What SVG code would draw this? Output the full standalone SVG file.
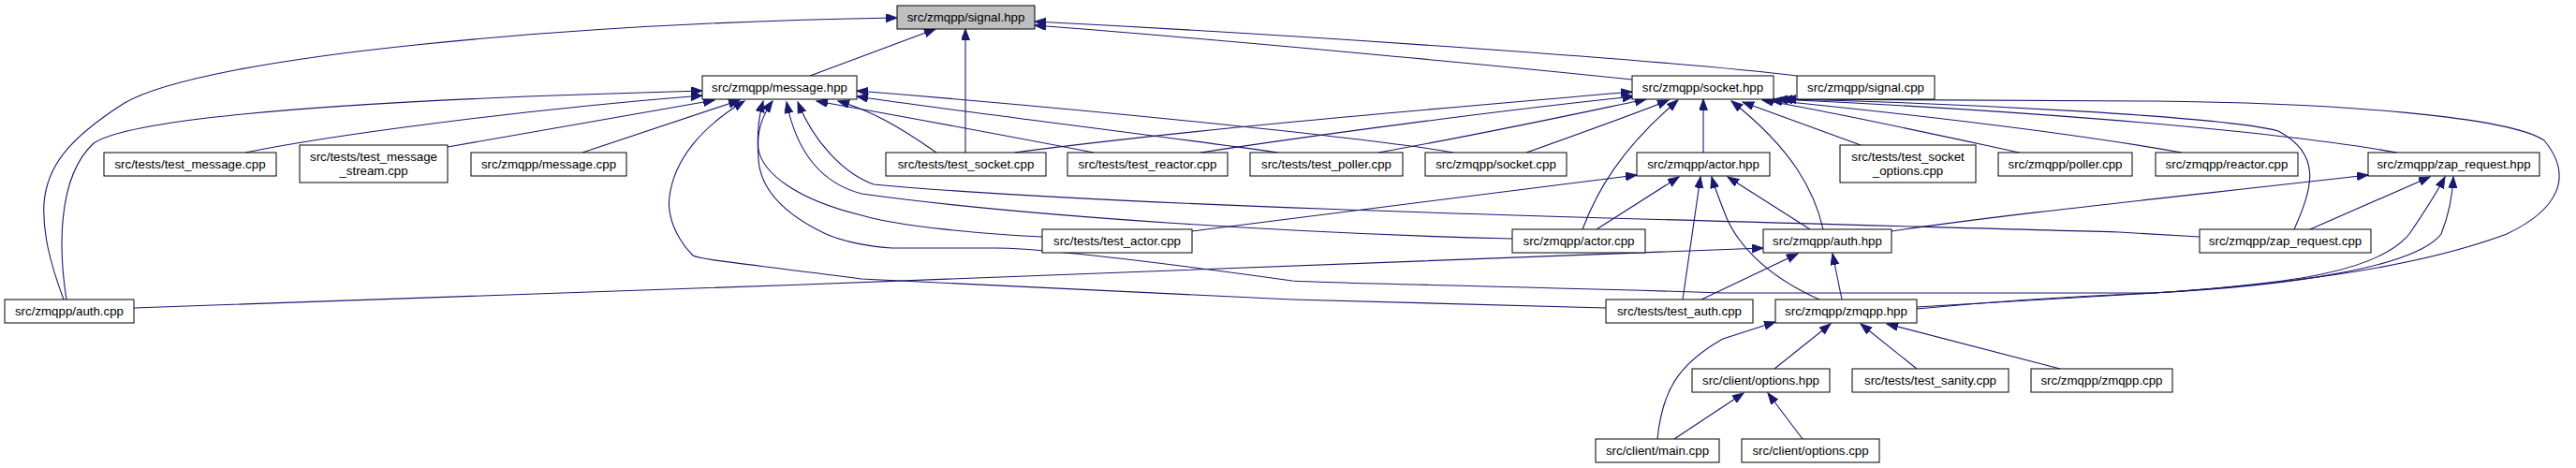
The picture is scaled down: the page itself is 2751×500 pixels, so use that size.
<svg xmlns="http://www.w3.org/2000/svg" width="2751" height="500" viewBox="0 0 2751 500">
<style>
.n rect{fill:#fff;stroke:#000;stroke-width:1}
.n text{font-family:"Liberation Sans",Arial,sans-serif;font-size:13.3px;fill:#000;text-anchor:middle}
.g rect{fill:#bfbfbf}
#edges path{fill:none;stroke:#191970;stroke-width:1.1;marker-end:url(#ah)}
#edges path.both{marker-start:url(#ah)}
</style>
<defs>
<marker id="ah" markerUnits="userSpaceOnUse" markerWidth="14" markerHeight="10" refX="12" refY="4.5" orient="auto-start-reverse">
<path d="M0,0 L12,4.5 L0,9 z" fill="#191970" stroke="#191970" stroke-width="1"/>
</marker>
</defs>
<rect width="2751" height="500" fill="#fff"/>
<g id="edges">
<path d="M865,81 L999,31"/>
<path d="M1031,163 L1031,31"/>
<path d="M1743,85 C1600,70 1300,42 1105,27"/>
<path d="M1919,81 C1800,66 1400,38 1105,23"/>
<path d="M68,320 C55,285 45,250 47,217 C50,180 70,150 133,110 C220,60 600,25 958,19"/>
<path d="M71,320 C63,270 60,190 100,153 C150,120 450,105 750,97"/>
<path d="M262,163 C350,145 550,118 750,102"/>
<path d="M478,157 L763,107"/>
<path d="M622,163 L790,107"/>
<path d="M1552,163 C1480,150 1200,120 915,97"/>
<path d="M1365,163 C1200,140 1000,116 915,103"/>
<path d="M1000,163 C960,135 930,118 895,108"/>
<path d="M1168,163 C1050,140 950,122 872,108"/>
<path d="M2349,253 L2263,248 C1800,235 1200,222 933,197 C900,185 868,150 852,109"/>
<path d="M1615,255 C1400,250 1100,232 920,207 C875,195 850,160 840,109"/>
<path d="M1113,253 C1050,250 960,242 920,230 C850,213 815,185 810,160 C808,140 815,122 825,108"/>
<path d="M1715,329 L1380,320 L920,298 C800,282 750,278 740,273 C722,255 712,230 715,210 C720,170 750,135 795,108"/>
<path class="both" d="M2620,189 C2619,210 2615,230 2607,250 C2580,285 2450,305 2300,313 L1840,313 C1600,305 1420,303 1380,300 C1200,275 1100,265 1063,265 L953,265 C930,264 900,258 882,250 C840,230 812,205 810,170 C808,145 810,125 815,108"/>
<path d="M1083,163 C1300,135 1550,115 1743,98"/>
<path d="M1282,163 C1400,145 1600,118 1745,103"/>
<path d="M1472,163 C1600,140 1700,118 1758,106"/>
<path d="M1630,163 C1700,138 1750,120 1782,107"/>
<path d="M1690,245 C1705,205 1730,160 1792,107"/>
<path d="M1819,163 L1819,106"/>
<path d="M1947,245 C1938,205 1915,160 1849,108"/>
<path d="M1987,155 L1861,109"/>
<path d="M2157,163 C2050,140 1950,118 1882,107"/>
<path d="M2330,163 C2200,140 2000,118 1891,107"/>
<path d="M2560,163 C2400,135 2100,115 1897,106"/>
<path d="M2450,245 C2470,200 2480,165 2433,140 C2380,125 2100,110 1902,106"/>
<path d="M2047,328 L2300,313 C2420,305 2570,290 2677,250 C2730,225 2750,190 2717,150 C2680,125 2500,110 2300,108 L1906,106"/>
<path d="M1273,247 L1748,187"/>
<path d="M1705,245 L1793,189"/>
<path d="M1797,320 L1816,189"/>
<path d="M1933,245 L1845,189"/>
<path d="M1943,320 C1880,292 1852,255 1842,228 C1835,210 1831,200 1828,189"/>
<path d="M2020,247 C2150,228 2300,213 2529,187"/>
<path d="M2467,245 L2595,189"/>
<path d="M2047,330 C2150,320 2250,315 2300,313 C2450,303 2540,290 2573,250 C2590,225 2600,210 2611,189"/>
<path d="M143,329 C700,310 1400,285 1883,265"/>
<path d="M1817,320 L1920,271"/>
<path d="M1967,320 L1957,271"/>
<path d="M1770,469 C1775,420 1790,390 1840,362 L1896,344"/>
<path d="M1895,394 L1955,346"/>
<path d="M2047,394 L1987,346"/>
<path d="M2200,394 L2015,346"/>
<path d="M1925,469 L1888,420"/>
<path d="M1788,469 L1862,420"/>
</g>
<g id="n_signal_hpp" class="n g"><rect x="958" y="6" width="147" height="25"/><text x="1031.5" y="23">src/zmqpp/signal.hpp</text></g>
<g id="n_message_hpp" class="n"><rect x="750" y="81" width="165" height="25"/><text x="832.5" y="98">src/zmqpp/message.hpp</text></g>
<g id="n_socket_hpp" class="n"><rect x="1743" y="81" width="151" height="25"/><text x="1818.5" y="98">src/zmqpp/socket.hpp</text></g>
<g id="n_signal_cpp" class="n"><rect x="1919" y="81" width="147" height="25"/><text x="1992.5" y="98">src/zmqpp/signal.cpp</text></g>
<g id="n_test_message_cpp" class="n"><rect x="111" y="163" width="184" height="25"/><text x="203" y="180">src/tests/test_message.cpp</text></g>
<g id="n_test_message_stream_cpp" class="n"><rect x="320" y="155" width="158" height="40"/><text x="399" y="172">src/tests/test_message</text><text x="399" y="187">_stream.cpp</text></g>
<g id="n_message_cpp" class="n"><rect x="503" y="163" width="166" height="25"/><text x="586" y="180">src/zmqpp/message.cpp</text></g>
<g id="n_test_socket_cpp" class="n"><rect x="946" y="163" width="171" height="25"/><text x="1031.5" y="180">src/tests/test_socket.cpp</text></g>
<g id="n_test_reactor_cpp" class="n"><rect x="1140" y="163" width="171" height="25"/><text x="1225.5" y="180">src/tests/test_reactor.cpp</text></g>
<g id="n_test_poller_cpp" class="n"><rect x="1335" y="163" width="163" height="25"/><text x="1416.5" y="180">src/tests/test_poller.cpp</text></g>
<g id="n_socket_cpp" class="n"><rect x="1522" y="163" width="151" height="25"/><text x="1597.5" y="180">src/zmqpp/socket.cpp</text></g>
<g id="n_actor_hpp" class="n"><rect x="1748" y="163" width="142" height="25"/><text x="1819" y="180">src/zmqpp/actor.hpp</text></g>
<g id="n_test_socket_options_cpp" class="n"><rect x="1965" y="155" width="145" height="40"/><text x="2037.5" y="172">src/tests/test_socket</text><text x="2037.5" y="187">_options.cpp</text></g>
<g id="n_poller_cpp" class="n"><rect x="2134" y="163" width="143" height="25"/><text x="2205.5" y="180">src/zmqpp/poller.cpp</text></g>
<g id="n_reactor_cpp" class="n"><rect x="2302" y="163" width="152" height="25"/><text x="2378" y="180">src/zmqpp/reactor.cpp</text></g>
<g id="n_zap_request_hpp" class="n"><rect x="2529" y="163" width="183" height="25"/><text x="2620.5" y="180">src/zmqpp/zap_request.hpp</text></g>
<g id="n_test_actor_cpp" class="n"><rect x="1113" y="245" width="160" height="25"/><text x="1193" y="262">src/tests/test_actor.cpp</text></g>
<g id="n_actor_cpp" class="n"><rect x="1615" y="245" width="142" height="25"/><text x="1686" y="262">src/zmqpp/actor.cpp</text></g>
<g id="n_auth_hpp" class="n"><rect x="1883" y="245" width="137" height="25"/><text x="1951.5" y="262">src/zmqpp/auth.hpp</text></g>
<g id="n_zap_request_cpp" class="n"><rect x="2349" y="245" width="183" height="25"/><text x="2440.5" y="262">src/zmqpp/zap_request.cpp</text></g>
<g id="n_auth_cpp" class="n"><rect x="5" y="320" width="138" height="25"/><text x="74" y="337">src/zmqpp/auth.cpp</text></g>
<g id="n_test_auth_cpp" class="n"><rect x="1715" y="320" width="157" height="25"/><text x="1793.5" y="337">src/tests/test_auth.cpp</text></g>
<g id="n_zmqpp_hpp" class="n"><rect x="1896" y="320" width="151" height="25"/><text x="1971.5" y="337">src/zmqpp/zmqpp.hpp</text></g>
<g id="n_options_hpp" class="n"><rect x="1807" y="394" width="147" height="25"/><text x="1880.5" y="411">src/client/options.hpp</text></g>
<g id="n_test_sanity_cpp" class="n"><rect x="1978" y="394" width="167" height="25"/><text x="2061.5" y="411">src/tests/test_sanity.cpp</text></g>
<g id="n_zmqpp_cpp" class="n"><rect x="2169" y="394" width="151" height="25"/><text x="2244.5" y="411">src/zmqpp/zmqpp.cpp</text></g>
<g id="n_main_cpp" class="n"><rect x="1704" y="469" width="132" height="25"/><text x="1770" y="486">src/client/main.cpp</text></g>
<g id="n_options_cpp" class="n"><rect x="1860" y="469" width="147" height="25"/><text x="1933.5" y="486">src/client/options.cpp</text></g>
</svg>
